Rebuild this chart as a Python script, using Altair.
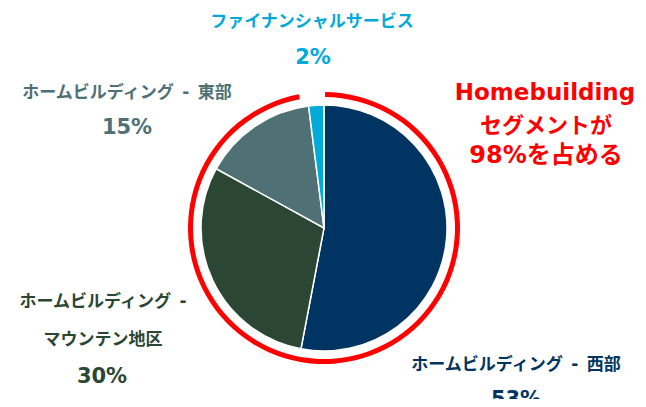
import altair as alt
import pandas as pd

# Data
segments = ["ホームビルディング - 西部", "ホームビルディング - マウンテン地区", "ホームビルディング - 東部", "ファイナンシャルサービス"]
shares = [53, 30, 15, 2]
order = [1, 2, 3, 4]
colors = ["#003462", "#2b4733", "#4f7074", "#00aad9"]
homebuilding_share = sum(shares[:3])

df = pd.DataFrame({"segment": segments, "share": shares, "order": order})

W, H = 630, 391
CX, CY = 316, 220
FONT = 'DejaVu Sans, "Noto Sans CJK JP"'
SEP = "\u2002-\u2002"

pie = alt.Chart(df).mark_arc(outerRadius=123, stroke="white", strokeWidth=1.5).encode(
    theta=alt.Theta("share:Q", stack=True),
    order=alt.Order("order:Q"),
    color=alt.Color("segment:N", scale=alt.Scale(domain=segments, range=colors), legend=None),
    x=alt.value(CX),
    y=alt.value(CY),
)

ring = alt.Chart(pd.DataFrame({"a": [0]})).mark_arc(
    theta=0.008, theta2=6.098, innerRadius=131, outerRadius=136, color="#ff0000"
).encode(x=alt.value(CX), y=alt.value(CY))


def txt(t, x, y, color, size):
    return alt.Chart(pd.DataFrame({"t": [t]})).mark_text(
        font=FONT, fontSize=size, fontWeight="bold", color=color,
        align="center", baseline="middle"
    ).encode(text="t:N", x=alt.value(x), y=alt.value(y))


layers = [
    txt("ファイナンシャルサービス", 304, 14, colors[3], 17),
    txt(f"{shares[3]}%", 305, 50, colors[3], 21),
    txt("ホームビルディング" + SEP + "東部", 119, 85, colors[2], 17),
    txt(f"{shares[2]}%", 119, 120, colors[2], 21),
    txt("ホームビルディング" + SEP.rstrip("\u2002"), 95, 294, colors[1], 17),
    txt("マウンテン地区", 95, 332, colors[1], 17),
    txt(f"{shares[1]}%", 94, 369, colors[1], 21),
    txt("ホームビルディング" + SEP + "西部", 508, 357, colors[0], 17),
    txt(f"{shares[0]}%", 508, 392, colors[0], 21),
    txt("Homebuilding", 537, 85, "#ff0000", 23),
    txt("セグメントが", 538, 118, "#ff0000", 22),
    txt(f"{homebuilding_share}%を占める", 538, 148, "#ff0000", 24),
]

chart = alt.layer(pie, ring, *layers).properties(
    width=W, height=H, padding=0, autosize=alt.AutoSizeParams(type="none")
).configure_view(stroke=None)

chart.save("out.html", embed_options={"renderer": "svg", "actions": False})
